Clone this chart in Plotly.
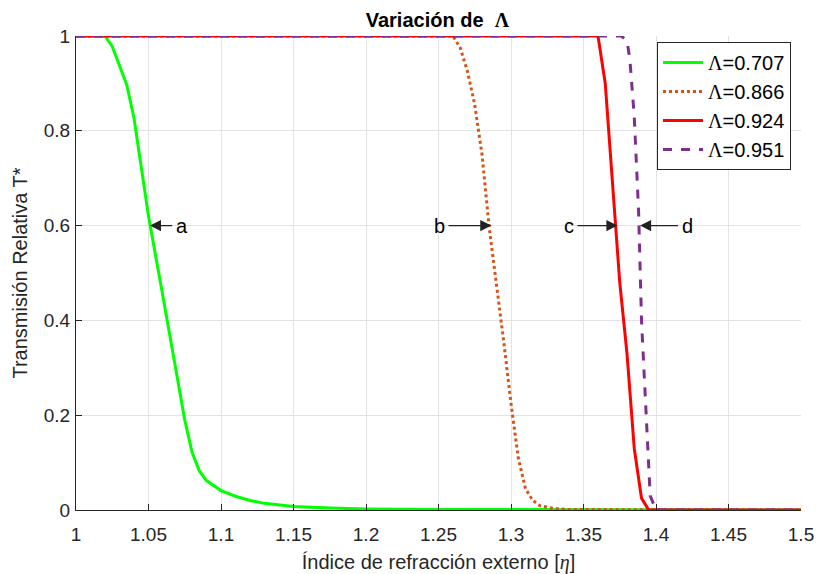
import plotly.graph_objects as go

# ---- data ----
x_707 = [1.0, 1.02, 1.025, 1.035, 1.04, 1.05, 1.06, 1.075, 1.08, 1.085, 1.09, 1.1,
         1.11, 1.12, 1.13, 1.15, 1.175, 1.2, 1.25, 1.3, 1.4, 1.5]
t_707 = [1.0, 1.0, 0.978, 0.897, 0.827, 0.62, 0.45, 0.19, 0.122, 0.083, 0.062, 0.041,
         0.029, 0.02, 0.014, 0.0075, 0.004, 0.002, 0.001, 0.0005, 0.0, 0.0]

x_866 = [1.0, 1.26, 1.265, 1.27, 1.275, 1.28, 1.285, 1.29, 1.295, 1.3, 1.305, 1.31,
         1.315, 1.32, 1.33, 1.34, 1.5]
t_866 = [1.0, 1.0, 0.975, 0.925, 0.855, 0.75, 0.595, 0.48, 0.355, 0.225, 0.11, 0.045,
         0.02, 0.009, 0.003, 0.001, 0.0]

x_924 = [1.0, 1.36, 1.365, 1.37, 1.375, 1.38, 1.385, 1.39, 1.395, 1.5]
t_924 = [1.0, 1.0, 0.90, 0.68, 0.48, 0.33, 0.13, 0.025, 0.0, 0.0]

x_951 = [1.0, 1.376, 1.38, 1.382, 1.385, 1.388, 1.39, 1.392, 1.394, 1.396, 1.4, 1.5]
t_951 = [1.0, 1.0, 0.99, 0.95, 0.83, 0.63, 0.40, 0.27, 0.13, 0.03, 0.0, 0.0]

series_names = ["0.707", "0.866", "0.924", "0.951"]

# annotation arrows: head position, text position, label
ann_labels = ["a", "b", "c", "d"]
ann_head_x = [1.051, 1.2864, 1.3734, 1.389]
ann_text_x = [1.0729, 1.2507, 1.34, 1.4214]
ann_y = [0.6, 0.6, 0.6, 0.6]

x_ticks = [1, 1.05, 1.1, 1.15, 1.2, 1.25, 1.3, 1.35, 1.4, 1.45, 1.5]
x_ticklabels = ["1", "1.05", "1.1", "1.15", "1.2", "1.25", "1.3", "1.35", "1.4", "1.45", "1.5"]
y_ticks = [0, 0.2, 0.4, 0.6, 0.8, 1]
y_ticklabels = ["0", "0.2", "0.4", "0.6", "0.8", "1"]

SANS = "Liberation Sans, Arial, sans-serif"
SERIF = "Liberation Serif"
LAM = f"<span style=\"font-family:'{SERIF}'\">Λ</span>"

styles = [
    dict(color="#00FF00", width=3, dash="solid"),
    dict(color="#D95319", width=3, dash="dot"),
    dict(color="#FF0000", width=3, dash="solid"),
    dict(color="#7E2F8E", width=3, dash="dash"),
]

fig = go.Figure()
for xs, ts, nm, st in zip([x_707, x_866, x_924, x_951], [t_707, t_866, t_924, t_951],
                          series_names, styles):
    fig.add_trace(go.Scatter(x=xs, y=ts, mode="lines", name=f"{LAM}={nm}", line=st))

for lab, hx, tx, yy in zip(ann_labels, ann_head_x, ann_text_x, ann_y):
    fig.add_annotation(x=hx, y=yy, ax=tx, ay=yy, axref="x", ayref="y", xref="x", yref="y",
                       text=lab, showarrow=True, arrowhead=2, arrowsize=1.7, arrowwidth=1.3,
                       arrowcolor="#222222", standoff=0, startstandoff=2,
                       font=dict(family=SANS, size=20, color="#000000"))

fig.update_layout(
    width=819, height=574,
    margin=dict(l=76, r=18, t=36, b=64),
    paper_bgcolor="white", plot_bgcolor="white",
    title=dict(text=f"<b>Variación de  {LAM}</b>", x=0.534, xanchor="center",
               y=0.965, yanchor="middle",
               font=dict(family=SANS, size=20, color="#000000")),
    font=dict(family=SANS, size=19, color="#262626"),
    legend=dict(x=0.8014, y=0.9873, xanchor="left", yanchor="top",
                bgcolor="white", bordercolor="#262626", borderwidth=1,
                font=dict(family=SANS, size=20, color="#000000"),
                tracegroupgap=0, itemwidth=40),
    showlegend=True,
)
fig.update_xaxes(range=[1, 1.5], tickvals=x_ticks, ticktext=x_ticklabels,
                 showgrid=True, gridcolor="#E3E3E3", gridwidth=1,
                 showline=True, linecolor="#262626", linewidth=1,
                 ticks="inside", ticklen=6, tickcolor="#262626",
                 zeroline=False, mirror=False, automargin=False,
                 ticklabelstandoff=7,
                 tickfont=dict(family=SANS, size=19, color="#262626"),
                 title=dict(text="Índice de refracción externo [<i><span style=\"font-family:'Liberation Serif'\">η</span></i>]",
                            font=dict(family=SANS, size=20, color="#262626"), standoff=13))
fig.update_yaxes(range=[0, 1], tickvals=y_ticks, ticktext=y_ticklabels,
                 showgrid=True, gridcolor="#E3E3E3", gridwidth=1,
                 showline=True, linecolor="#262626", linewidth=1,
                 ticks="inside", ticklen=6, tickcolor="#262626",
                 zeroline=False, mirror=False, automargin=False,
                 ticklabelstandoff=1,
                 tickfont=dict(family=SANS, size=19, color="#262626"),
                 title=dict(text="Transmisión Relativa T*",
                            font=dict(family=SANS, size=20, color="#262626"), standoff=10))

# remove the default page margin so the figure sits at the window origin
fig.write_html("out.html", config={"displayModeBar": False},
               post_script="document.body.style.margin='0';document.body.style.overflow='hidden';")
